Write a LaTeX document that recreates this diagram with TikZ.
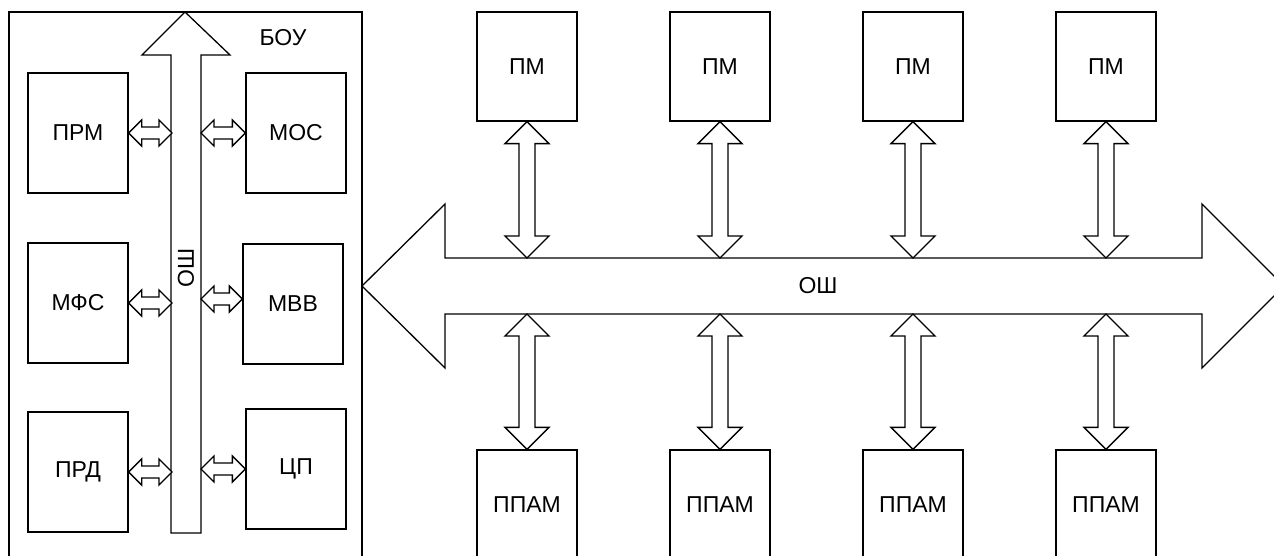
\documentclass[tikz,border=0pt]{standalone}
\usepackage{fontspec}
\setmainfont{Liberation Sans}
\usetikzlibrary{calc}
\tikzset{blk/.style={draw,fill=white,inner sep=0pt,minimum width=100pt,minimum height=120pt},
  mblk/.style={blk,minimum height=109pt}}
\newcommand{\block}[5]{\node[#5] (#1) at (#2,#3) {#4};}
\newcommand{\linkH}[2]{\draw[fill=white] (#1) -- ($(#1)+(13,-13)$) -- ($(#1)+(13,-6)$) -- ($(#2)+(-13,-6)$) -- ($(#2)+(-13,-13)$) -- (#2) -- ($(#2)+(-13,13)$) -- ($(#2)+(-13,6)$) -- ($(#1)+(13,6)$) -- ($(#1)+(13,13)$) -- cycle;}
\newcommand{\linkV}[2]{\draw[fill=white] (#1) -- ($(#1)+(22,22)$) -- ($(#1)+(8,22)$) -- ($(#2)+(8,-22)$) -- ($(#2)+(22,-22)$) -- (#2) -- ($(#2)+(-22,-22)$) -- ($(#2)+(-8,-22)$) -- ($(#1)+(-8,22)$) -- ($(#1)+(-22,22)$) -- cycle;}

\begin{document}
\begin{tikzpicture}[x=1pt,y=-1pt,line width=1.3pt,font=\fontsize{23}{27}\selectfont]
    \useasboundingbox (0,0) rectangle (1274,556);
    \clip (0,0) rectangle (1274,556);
    % BOU
    \draw (9,12) rectangle (362,600); \node (bou) at (283,38) {БОУ};
    \coordinate (busL) at (172,0); \coordinate (busR) at (201,0);
    \draw[fill=white] (185,12) -- (230,55) -- (201,55) -- (201,533) -- (171,533) -- (171,55) -- (142,55) -- cycle;
    \node[rotate=90] (obus) at (186,268) {ОШ};
    \block{prm}{78}{133}{ПРМ}{blk}    \block{mos}{296}{133}{МОС}{blk}
    \block{mfs}{78}{303}{МФС}{blk}    \block{mvv}{293}{304}{МВВ}{blk}
    \block{prd}{78}{472}{ПРД}{blk}    \block{cp}{296}{469}{ЦП}{blk}
    \linkH{prm.east}{prm.east -| busL}  \linkH{mos.west -| busR}{mos.west}
    \linkH{mfs.east}{mfs.east -| busL}  \linkH{$(mvv.west -| busR)+(0,-5)$}{$(mvv.west)+(0,-5)$}
    \linkH{prd.east}{prd.east -| busL}  \linkH{cp.west -| busR}{cp.west}

    % OSh
    \coordinate (shT) at (0,258); \coordinate (shB) at (0,314);
    \draw[fill=white] (362,286) -- (445,204) -- (445,258) -- (1202,258) -- (1202,204) -- (1284,286)
      -- (1202,368) -- (1202,314) -- (445,314) -- (445,368) -- cycle;
    \node (osh) at (818,286) {ОШ};
    \foreach \i/\x in {1/527,2/720,3/913,4/1106}{
      \block{pm\i}{\x}{66.5}{ПМ}{mblk}
      \block{ppam\i}{\x}{504.5}{ППАМ}{mblk}
      \linkV{pm\i.south}{pm\i.south |- shT}
      \linkV{ppam\i.north |- shB}{ppam\i.north}
    }
\end{tikzpicture}
\end{document}
